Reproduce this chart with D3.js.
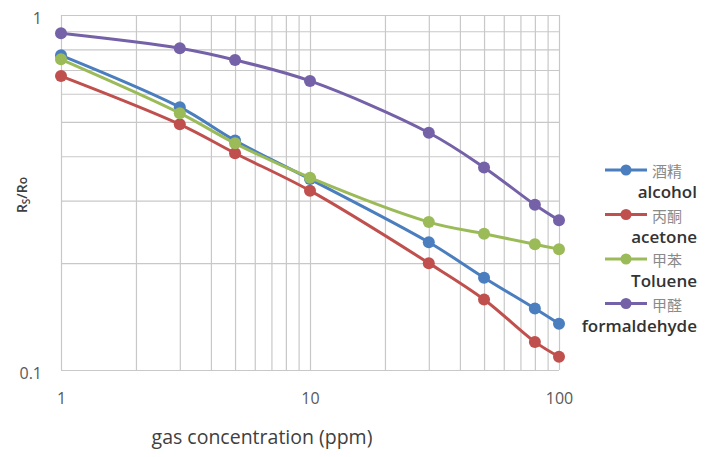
<!DOCTYPE html>
<html>
<head>
<meta charset="utf-8">
<script src="https://cdn.jsdelivr.net/npm/d3@7"></script>
<style>
  body { margin: 0; background: #fff; }
</style>
</head>
<body>
<div id="chart"></div>
<script>
// gas concentration (ppm) and Rs/Ro readings per gas
const concentrations = [1, 3, 5, 10, 30, 50, 80, 100];
const alcohol      = [0.77, 0.55, 0.443, 0.345, 0.229, 0.182, 0.149, 0.135];
const acetone      = [0.673, 0.492, 0.408, 0.320, 0.200, 0.158, 0.120, 0.109];
const toluene      = [0.75, 0.529, 0.435, 0.348, 0.261, 0.242, 0.226, 0.219];
const formaldehyde = [0.888, 0.806, 0.747, 0.652, 0.466, 0.372, 0.292, 0.264];

const seriesNames = [
  {cn: '酒精', en: 'alcohol'},
  {cn: '丙酮', en: 'acetone'},
  {cn: '甲苯', en: 'Toluene'},
  {cn: '甲醛', en: 'formaldehyde'}
];
const seriesValues = [alcohol, acetone, toluene, formaldehyde];
const xTickLabels = [1, 10, 100];
const yTickLabels = [0.1, 1];

const W = 705, H = 457;
const margin = {top: 15, right: 146, bottom: 87, left: 61};
const width = W - margin.left - margin.right;
const height = H - margin.top - margin.bottom;

const svg = d3.select('#chart')
  .append('svg')
    .attr('width', W)
    .attr('height', H);

const g = svg.append('g')
    .attr('transform', `translate(${margin.left},${margin.top})`);

const x = d3.scaleLog().domain([1, 100]).range([0, width]);
const y = d3.scaleLog().domain([0.1, 1]).range([height, 0]);

const color = d3.scaleOrdinal()
  .domain(seriesNames.map(d => d.en))
  .range(['#4a7ebf', '#c0504d', '#9bbb59', '#7561a8']);

// grid lines
g.append('g')
  .attr('transform', `translate(0,${height})`)
  .call(d3.axisBottom(x).tickValues(x.ticks()).tickSize(-height).tickFormat(''))
  .call(s => s.select('.domain').remove())
  .call(s => s.selectAll('line').attr('stroke', '#c8c8c8').attr('stroke-width', 1.2));

g.append('g')
  .call(d3.axisLeft(y).tickValues(y.ticks()).tickSize(-width).tickFormat(''))
  .call(s => s.select('.domain').remove())
  .call(s => s.selectAll('line').attr('stroke', '#c8c8c8').attr('stroke-width', 1.2));

// tick labels
g.append('g')
  .attr('transform', `translate(0,${height})`)
  .call(d3.axisBottom(x).tickValues(xTickLabels).tickSize(0).tickPadding(23).tickFormat(d3.format('d')))
  .call(s => s.select('.domain').remove())
  .call(s => s.selectAll('text')
    .attr('font-family', 'Open Sans, sans-serif')
    .attr('font-size', 16)
    .attr('fill', '#595959'));

g.append('g')
  .call(d3.axisLeft(y).tickValues(yTickLabels).tickSize(0).tickPadding(19).tickFormat(d => d === 1 ? '1' : '0.1'))
  .call(s => s.select('.domain').remove())
  .call(s => s.selectAll('text')
    .attr('dy', '0.5em')
    .attr('font-family', 'Open Sans, sans-serif')
    .attr('font-size', 16)
    .attr('fill', '#595959'));

// axis titles
svg.append('text')
  .attr('x', 262)
  .attr('y', 444)
  .attr('text-anchor', 'middle')
  .attr('font-family', 'Open Sans, sans-serif')
  .attr('font-size', 19.5)
  .attr('fill', '#404040')
  .text('gas concentration (ppm)');

const yt = svg.append('text')
  .attr('transform', 'translate(27,195) rotate(-90)')
  .attr('text-anchor', 'middle')
  .attr('font-family', 'Open Sans, sans-serif')
  .attr('font-size', 14)
  .attr('font-weight', 600)
  .attr('fill', '#404040');
yt.append('tspan').text('R');
yt.append('tspan').attr('font-size', 10).attr('dy', 3).text('S');
yt.append('tspan').attr('dy', -3).text('/R');
yt.append('tspan').attr('font-size', 12).text('o');

// series
const line = d3.line()
  .x(d => x(d[0]))
  .y(d => y(d[1]))
  .curve(d3.curveCatmullRom.alpha(0.5));

const series = seriesNames.map((s, i) => ({
  name: s.en,
  points: concentrations.map((c, j) => [c, seriesValues[i][j]])
}));

const sg = g.selectAll('.series')
  .data(series)
  .join('g')
    .attr('class', 'series');

sg.append('path')
  .attr('d', d => line(d.points))
  .attr('fill', 'none')
  .attr('stroke', d => color(d.name))
  .attr('stroke-width', 3);

sg.selectAll('circle')
  .data(d => d.points.map(p => ({p, name: d.name})))
  .join('circle')
    .attr('cx', d => x(d.p[0]))
    .attr('cy', d => y(d.p[1]))
    .attr('r', 6)
    .attr('fill', d => color(d.name));

// legend
const legend = svg.append('g')
  .selectAll('g')
  .data(seriesNames)
  .join('g')
    .attr('transform', (d, i) => `translate(0,${170 + i * 44.5})`);

legend.append('line')
  .attr('x1', 605).attr('x2', 647)
  .attr('stroke', d => color(d.en))
  .attr('stroke-width', 3);

legend.append('circle')
  .attr('cx', 626)
  .attr('r', 5.5)
  .attr('fill', d => color(d.en));

legend.append('text')
  .attr('x', 652)
  .attr('y', 7)
  .attr('font-family', 'Noto Sans CJK SC, sans-serif')
  .attr('font-size', 15)
  .attr('fill', '#8a8a8a')
  .text(d => d.cn);

legend.append('text')
  .attr('x', 697)
  .attr('y', 28)
  .attr('text-anchor', 'end')
  .attr('font-family', 'Open Sans, sans-serif')
  .attr('font-size', 17)
  .attr('font-weight', 600)
  .attr('fill', '#333')
  .text(d => d.en);
</script>
</body>
</html>
